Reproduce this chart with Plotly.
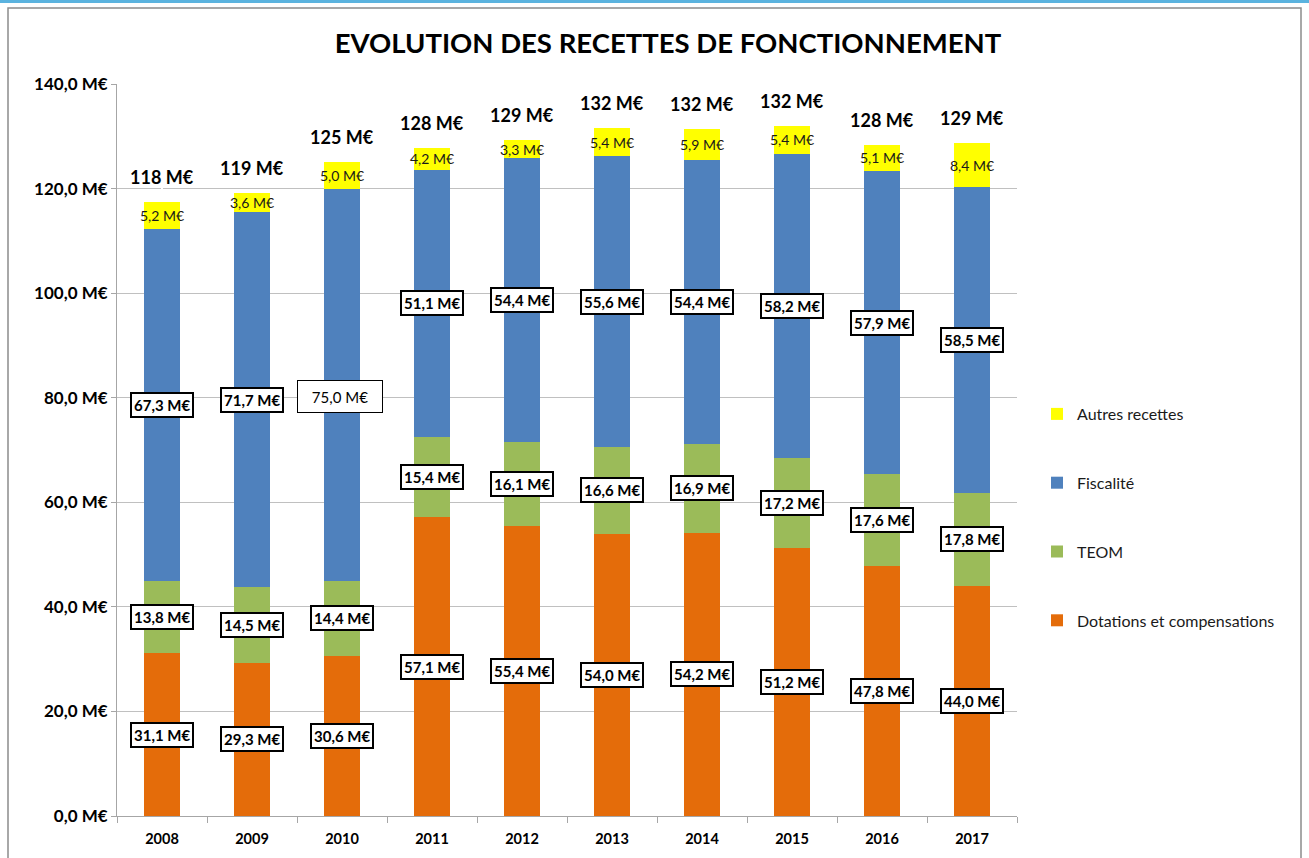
import plotly.graph_objects as go

years = ["2008", "2009", "2010", "2011", "2012", "2013", "2014", "2015", "2016", "2017"]
dotations = [31.1, 29.3, 30.6, 57.1, 55.4, 54.0, 54.2, 51.2, 47.8, 44.0]
teom = [13.8, 14.5, 14.4, 15.4, 16.1, 16.6, 16.9, 17.2, 17.6, 17.8]
fiscalite = [67.3, 71.7, 75.0, 51.1, 54.4, 55.6, 54.4, 58.2, 57.9, 58.5]
autres = [5.2, 3.6, 5.0, 4.2, 3.3, 5.4, 5.9, 5.4, 5.1, 8.4]
totals = ["118 M€", "119 M€", "125 M€", "128 M€", "129 M€", "132 M€", "132 M€", "132 M€", "128 M€", "129 M€"]
y_ticks = [0, 20, 40, 60, 80, 100, 120, 140]

series = [
    ("Dotations et compensations", dotations, "#E46C0A", 4),
    ("TEOM", teom, "#9BBB59", 3),
    ("Fiscalité", fiscalite, "#4F81BD", 2),
    ("Autres recettes", autres, "#FFFF00", 1),
]

FONT = "Lato"
W, H = 1309, 858
ML, MR, MT, MB = 117, 292, 84, 42
PW, PH = W - ML - MR, H - MT - MB


def fmt(v):
    return f"{v:.1f}".replace(".", ",") + " M€"


fig = go.Figure()
for name, vals, col, rank in series:
    fig.add_trace(go.Bar(
        x=list(range(len(years))), y=vals, name=name,
        marker=dict(color=col, line=dict(width=0)),
        legendgroup=name, legendrank=rank, hoverinfo="skip",
    ))

annotations = []
bottoms = [0.0] * len(years)
for name, vals, col, rank in series:
    for i in range(len(years)):
        v = vals[i]
        mid = bottoms[i] + v / 2
        if name == "Autres recettes":
            annotations.append(dict(x=i, y=mid, text=fmt(v), showarrow=False,
                                    font=dict(family=FONT, size=14, color="#1a1a1a")))
        elif name == "Fiscalité" and years[i] == "2010":
            annotations.append(dict(x=i, y=mid, yshift=-12, xshift=-2, text=fmt(v), showarrow=False,
                                    font=dict(family=FONT, size=15, color="#000"),
                                    width=82, height=29, borderpad=1,
                                    bgcolor="white", bordercolor="#000", borderwidth=1))
        else:
            annotations.append(dict(x=i, y=mid, text="<b>" + fmt(v) + "</b>", showarrow=False,
                                    font=dict(family=FONT, size=15, color="#000"),
                                    bgcolor="white", bordercolor="#000", borderwidth=2, borderpad=2))
        bottoms[i] += v

for i in range(len(years)):
    annotations.append(dict(x=i, y=bottoms[i], yanchor="bottom", yshift=12,
                            text="<b>" + totals[i] + "</b>", showarrow=False,
                            font=dict(family=FONT, size=18, color="#000")))


def px(xp):
    return (xp - ML) / PW


def py(yp):
    return (H - MB - yp) / PH


shapes = [
    dict(type="rect", xref="paper", yref="paper", x0=px(8), x1=px(1301), y0=py(880), y1=py(8),
         line=dict(color="#8c8c8c", width=1.5), fillcolor="rgba(0,0,0,0)", layer="below"),
    dict(type="rect", xref="paper", yref="paper", x0=px(0), x1=px(W), y0=py(3), y1=py(0),
         line=dict(width=0), fillcolor="#5BB3DF", layer="below"),
]

fig.update_layout(
    width=W, height=H,
    barmode="stack", bargap=0.61,
    paper_bgcolor="white", plot_bgcolor="white",
    margin=dict(l=ML, r=MR, t=MT, b=MB),
    title=dict(text="<b>EVOLUTION DES RECETTES DE FONCTIONNEMENT</b>",
               x=668 / W, xanchor="center", y=1 - 43 / H, yanchor="middle",
               font=dict(family=FONT, size=27.5, color="#000")),
    font=dict(family=FONT, color="#000"),
    xaxis=dict(range=[-0.5, len(years) - 0.5], tickmode="array",
               tickvals=list(range(len(years))), ticktext=["<b>" + y + "</b>" for y in years],
               showgrid=False, showline=True, linecolor="#a6a6a6", linewidth=1,
               ticks="", ticklabelstandoff=10,
               tickfont=dict(family=FONT, size=14.5, color="#000"), fixedrange=True),
    xaxis2=dict(overlaying="x", range=[-0.5, len(years) - 0.5], tickmode="array",
                tickvals=[i - 0.5 for i in range(len(years) + 1)], ticktext=[""] * (len(years) + 1),
                showgrid=False, ticks="outside", ticklen=6, tickcolor="#a6a6a6",
                side="bottom", showline=False),
    yaxis=dict(range=[0, 140], tickmode="array", tickvals=y_ticks,
               ticktext=["<b>" + fmt(v) + "</b>" for v in y_ticks],
               showgrid=True, gridcolor="#c0c0c0", gridwidth=1,
               showline=True, linecolor="#a6a6a6", linewidth=1,
               ticks="outside", ticklen=5, tickcolor="#a6a6a6",
               tickfont=dict(family=FONT, size=17, color="#000"), zeroline=False),
    legend=dict(x=px(1037), y=py(397), xanchor="left", yanchor="top",
                traceorder="grouped", tracegroupgap=45,
                font=dict(family=FONT, size=16, color="#1a1a1a"),
                itemclick=False, bgcolor="rgba(0,0,0,0)"),
    annotations=annotations,
    shapes=shapes,
    showlegend=True,
)
fig.add_trace(go.Scatter(x=[0], y=[0], xaxis="x2", mode="markers",
                         marker=dict(opacity=0), showlegend=False, hoverinfo="skip"))
fig.write_html("out.html", config={"displayModeBar": False},
               post_script="document.body.style.margin='0';")
